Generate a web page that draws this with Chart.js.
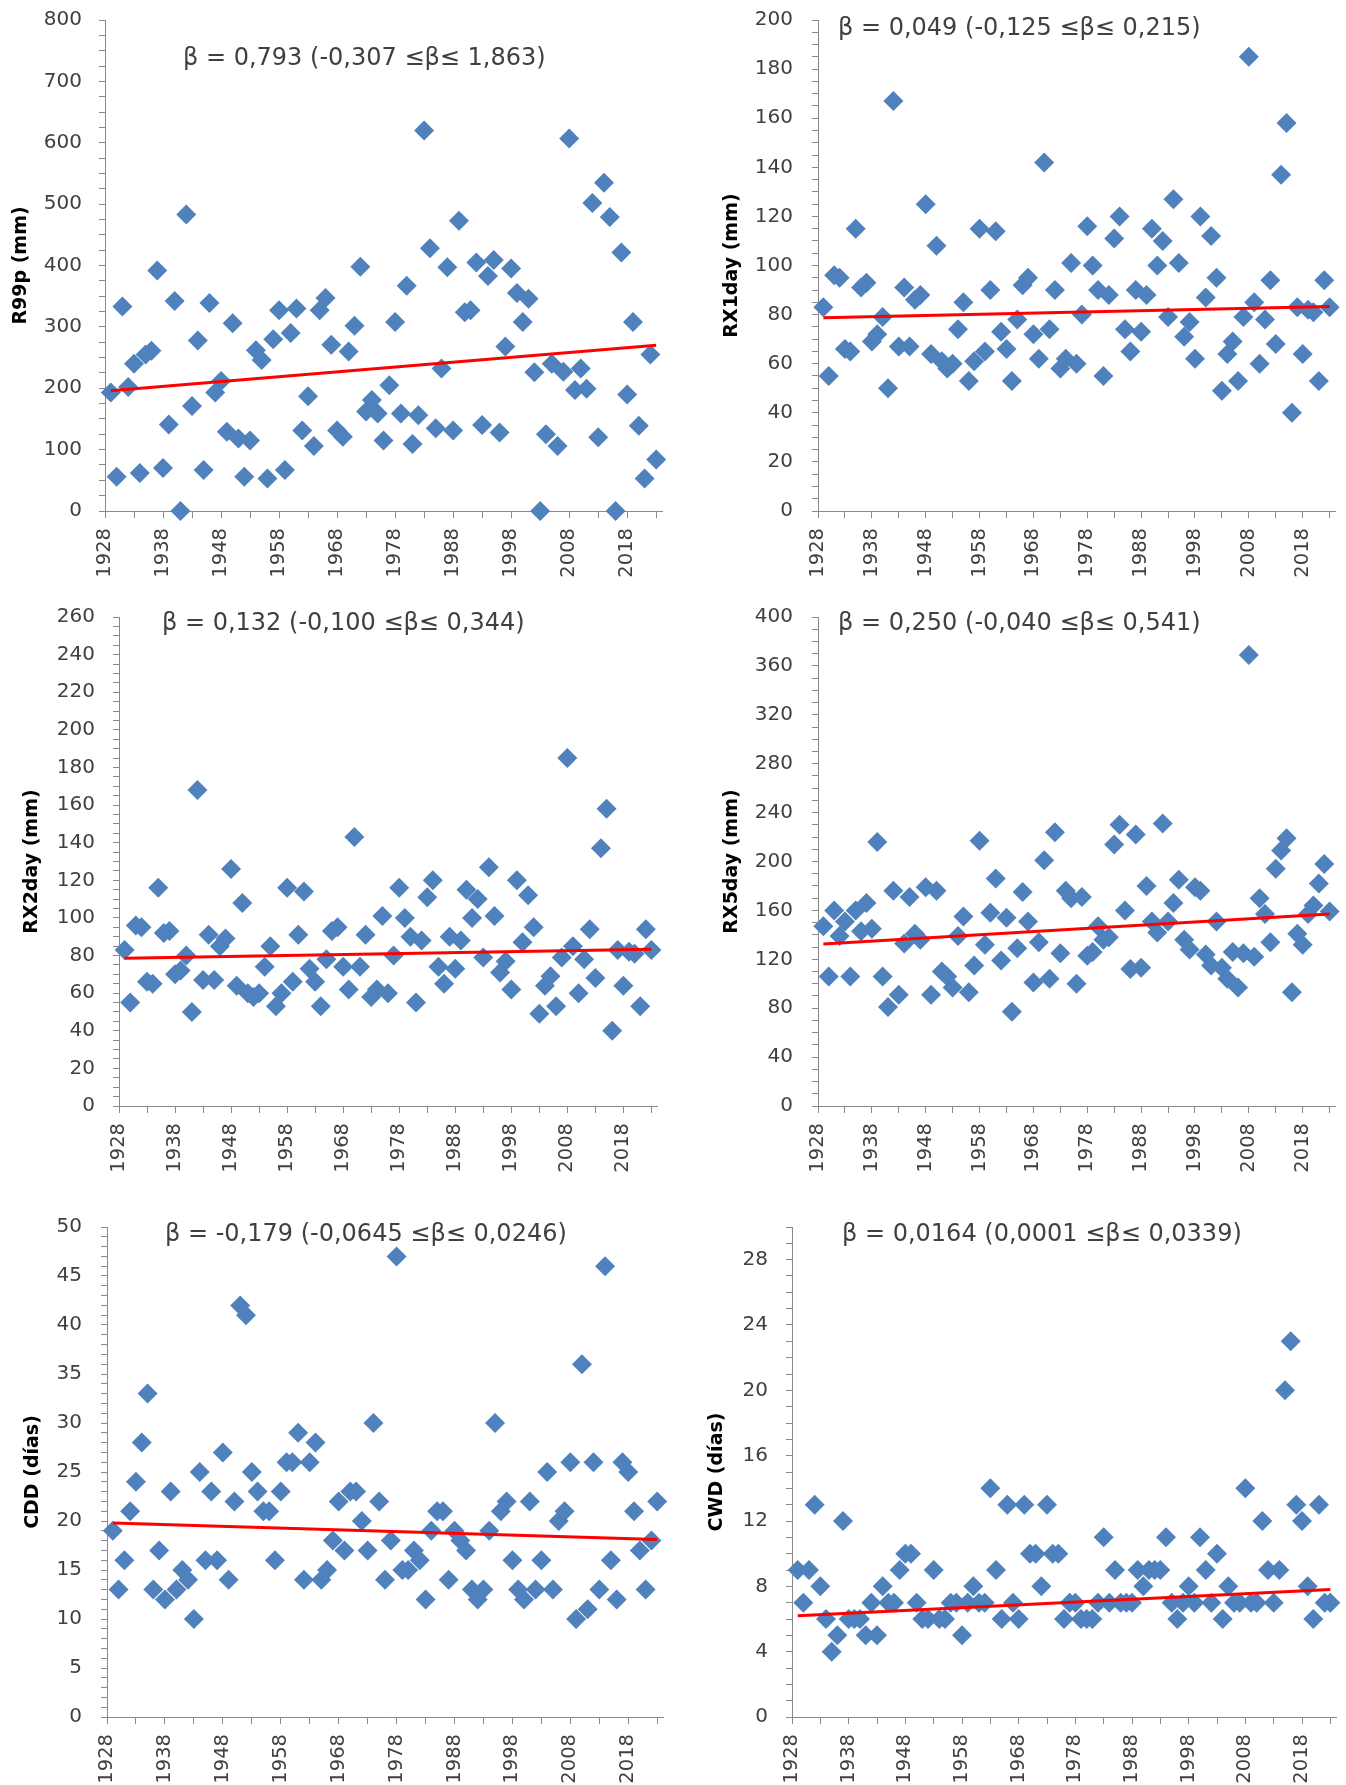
<!DOCTYPE html>
<html>
<head>
<meta charset="utf-8">
<script src="https://cdn.jsdelivr.net/npm/chart.js@4.4.1/dist/chart.umd.min.js"></script>
<style>
    html, body { margin: 0; padding: 0; background: #fff; }
    #page { position: relative; width: 1346px; height: 1785px; overflow: hidden; }
    #page canvas { position: absolute; }
</style>
</head>
<body>
<div id="page"></div>
<script>
// Years on the x axis
const years = [
    1929, 1930, 1931, 1932, 1933, 1934, 1935, 1936, 1937, 1938,
    1939, 1940, 1941, 1942, 1943, 1944, 1945, 1946, 1947, 1948,
    1949, 1950, 1951, 1952, 1953, 1954, 1955, 1956, 1957, 1958,
    1959, 1960, 1961, 1962, 1963, 1964, 1965, 1966, 1967, 1968,
    1969, 1970, 1971, 1972, 1973, 1974, 1975, 1976, 1977, 1978,
    1979, 1980, 1981, 1982, 1983, 1984, 1985, 1986, 1987, 1988,
    1989, 1990, 1991, 1992, 1993, 1994, 1995, 1996, 1997, 1998,
    1999, 2000, 2001, 2002, 2003, 2004, 2005, 2006, 2007, 2008,
    2009, 2010, 2011, 2012, 2013, 2014, 2015, 2016, 2017, 2018,
    2019, 2020, 2021, 2022, 2023
];
// tick marks every 5 years, labels every 10
const yearTicks = [1928, 1933, 1938, 1943, 1948, 1953, 1958, 1963, 1968, 1973,
    1978, 1983, 1988, 1993, 1998, 2003, 2008, 2013, 2018, 2023];
const yearLabels = [1928, 1938, 1948, 1958, 1968, 1978, 1988, 1998, 2008, 2018];

const r99p = [
    193, 56, 333, 202, 240, 62, 255, 261, 392, 70,
    141, 342, 0, 483, 171, 278, 67, 339, 193, 212,
    129, 306, 118, 56, 115, 262, 246, 53, 280, 327,
    67, 290, 330, 131, 187, 106, 327, 347, 271, 131,
    121, 260, 302, 398, 162, 181, 159, 115, 205, 308,
    159, 367, 109, 156, 620, 428, 135, 232, 397, 131,
    473, 324, 327, 405, 140, 383, 409, 128, 268, 395,
    355, 308, 346, 226, 0, 125, 240, 106, 227, 607,
    197, 232, 199, 502, 120, 535, 479, 0, 421, 190,
    308, 139, 53, 255, 84
];
const rx1day = [
    83, 55, 96, 95, 66, 65, 115, 91, 93, 69,
    72, 79, 50, 167, 67, 91, 67, 86, 88, 125,
    64, 108, 61, 58, 60, 74, 85, 53, 61, 115,
    65, 90, 114, 73, 66, 53, 78, 92, 95, 72,
    62, 142, 74, 90, 58, 62, 101, 60, 80, 116,
    100, 90, 55, 88, 111, 120, 74, 65, 90, 73,
    88, 115, 100, 110, 79, 127, 101, 71, 77, 62,
    120, 87, 112, 95, 49, 64, 69, 53, 79, 185,
    85, 60, 78, 94, 68, 137, 158, 40, 83, 64,
    82, 81, 53, 94, 83
];
const rx2day = [
    83, 55, 96, 95, 66, 65, 116, 92, 93, 70,
    72, 80, 50, 168, 67, 91, 67, 85, 89, 126,
    64, 108, 60, 58, 60, 74, 85, 53, 60, 116,
    66, 91, 114, 73, 66, 53, 78, 93, 95, 74,
    62, 143, 74, 91, 58, 62, 101, 60, 80, 116,
    100, 90, 55, 88, 111, 120, 74, 65, 90, 73,
    88, 115, 100, 110, 79, 127, 101, 71, 77, 62,
    120, 87, 112, 95, 49, 64, 69, 53, 79, 185,
    85, 60, 78, 94, 68, 137, 158, 40, 83, 64,
    82, 81, 53, 94, 83
];
const rx5day = [
    147, 106, 160, 139, 151, 106, 160, 143, 166, 145,
    216, 106, 81, 176, 91, 133, 171, 141, 136, 179,
    91, 176, 110, 106, 97, 139, 155, 93, 115, 217,
    132, 158, 186, 119, 154, 77, 129, 175, 151, 101,
    134, 201, 104, 224, 125, 176, 170, 100, 171, 123,
    126, 147, 136, 138, 214, 230, 160, 112, 222, 113,
    180, 151, 142, 231, 151, 166, 185, 136, 128, 179,
    176, 124, 115, 151, 113, 104, 126, 97, 125, 369,
    122, 170, 157, 134, 194, 209, 219, 93, 141, 132,
    157, 164, 182, 198, 159
];
const cdd = [
    19, 13, 16, 21, 24, 28, 33, 13, 17, 12,
    23, 13, 15, 14, 10, 25, 16, 23, 16, 27,
    14, 22, 42, 41, 25, 23, 21, 21, 16, 23,
    26, 26, 29, 14, 26, 28, 14, 15, 18, 22,
    17, 23, 23, 20, 17, 30, 22, 14, 18, 47,
    15, 15, 17, 16, 12, 19, 21, 21, 14, 19,
    18, 17, 13, 12, 13, 19, 30, 21, 22, 16,
    13, 12, 22, 13, 16, 25, 13, 20, 21, 26,
    10, 36, 11, 26, 13, 46, 16, 12, 26, 25,
    21, 17, 13, 18, 22
];
const cwd = [
    9, 7, 9, 13, 8, 6, 4, 5, 12, 6,
    6, 6, 5, 7, 5, 8, 7, 7, 9, 10,
    10, 7, 6, 6, 9, 6, 6, 7, 7, 5,
    7, 8, 7, 7, 14, 9, 6, 13, 7, 6,
    13, 10, 10, 8, 13, 10, 10, 6, 7, 7,
    6, 6, 6, 7, 11, 7, 9, 7, 7, 7,
    9, 8, 9, 9, 9, 11, 7, 6, 7, 8,
    7, 11, 9, 7, 10, 6, 8, 7, 7, 14,
    7, 7, 12, 9, 7, 9, 20, 23, 13, 12,
    8, 6, 13, 7, 7
];

// trend line values at the first and last year
const trendR99p = [196, 270];
const trendRx1day = [78.7, 83.3];
const trendRx2day = [78.5, 83.3];
const trendRx5day = [132.5, 157];
const trendCdd = [19.8, 18.1];
const trendCwd = [6.2, 7.8];

const BLUE = '#4f81bd';
const AXIS_GREY = '#898989';
const TEXT_GREY = '#404040';
const FONT = "'DejaVu Sans', sans-serif";

const panels = [
    { values: r99p, trend: trendR99p, yMax: 800, yStep: 25, yMajor: 100, yTitle: 'R99p (mm)',
      beta: 'β = 0,793 (-0,307 ≤β≤ 1,863)',
      box: { x: 0, y: 0, w: 690, h: 590 }, area: { l: 105, t: 20, r: 662, b: 511 },
      titleX: 21, labelRight: 82, betaAt: [183, 59] },
    { values: rx1day, trend: trendRx1day, yMax: 200, yStep: 5, yMajor: 20, yTitle: 'RX1day (mm)',
      beta: 'β = 0,049 (-0,125 ≤β≤ 0,215)',
      box: { x: 690, y: 0, w: 656, h: 590 }, area: { l: 818, t: 20, r: 1335, b: 511 },
      titleX: 732, labelRight: 793, betaAt: [838, 29] },
    { values: rx2day, trend: trendRx2day, yMax: 260, yStep: 5, yMajor: 20, yTitle: 'RX2day (mm)',
      beta: 'β = 0,132 (-0,100 ≤β≤ 0,344)',
      box: { x: 0, y: 595, w: 690, h: 590 }, area: { l: 119, t: 617, r: 657, b: 1106 },
      titleX: 32, labelRight: 95, betaAt: [162, 624] },
    { values: rx5day, trend: trendRx5day, yMax: 400, yStep: 10, yMajor: 40, yTitle: 'RX5day (mm)',
      beta: 'β = 0,250 (-0,040 ≤β≤ 0,541)',
      box: { x: 690, y: 595, w: 656, h: 590 }, area: { l: 818, t: 617, r: 1335, b: 1106 },
      titleX: 732, labelRight: 793, betaAt: [838, 624] },
    { values: cdd, trend: trendCdd, yMax: 50, yStep: 1, yMajor: 5, yTitle: 'CDD (días)',
      beta: 'β = -0,179 (-0,0645 ≤β≤ 0,0246)',
      box: { x: 0, y: 1190, w: 690, h: 595 }, area: { l: 107, t: 1227, r: 663, b: 1717 },
      titleX: 33, labelRight: 82, betaAt: [165, 1235] },
    { values: cwd, trend: trendCwd, yMax: 30, yStep: 1, yMajor: 4, yTitle: 'CWD (días)',
      beta: 'β = 0,0164 (0,0001 ≤β≤ 0,0339)',
      box: { x: 690, y: 1190, w: 656, h: 595 }, area: { l: 792, t: 1227, r: 1338, b: 1717 },
      titleX: 717, labelRight: 768, betaAt: [842, 1235] }
];

// draws the slope text inside the plot
const betaLabel = {
    id: 'betaLabel',
    afterDraw(chart, args, opts) {
        const ctx = chart.ctx;
        ctx.save();
        ctx.font = opts.font;
        ctx.fillStyle = opts.color;
        ctx.textAlign = 'left';
        ctx.textBaseline = 'middle';
        ctx.fillText(opts.text, opts.x, opts.y);
        ctx.restore();
    }
};

function makePanel(p) {
    const page = document.getElementById('page');
    const canvas = document.createElement('canvas');
    canvas.width = p.box.w;
    canvas.height = p.box.h;
    canvas.style.left = p.box.x + 'px';
    canvas.style.top = p.box.y + 'px';
    canvas.style.width = p.box.w + 'px';
    canvas.style.height = p.box.h + 'px';
    page.appendChild(canvas);

    const yAxisWidth = p.area.l - p.box.x;
    const xAxisHeight = p.box.y + p.box.h - p.area.b;
    const padRight = p.box.x + p.box.w - p.area.r;
    const padTop = p.area.t - p.box.y;
    const titleSize = 19;
    const titlePad = (p.titleX - p.box.x) - titleSize * 1.2 / 2;
    const yTickLen = 6;
    const yLabelPad = (p.area.l - p.labelRight) - yTickLen;

    const yTicks = [];
    for (let v = 0; v <= p.yMax + 1e-9; v += p.yStep) yTicks.push(v);

    const points = years.map((yr, i) => ({ x: yr, y: p.values[i] }));
    const trendPts = [
        { x: years[0], y: p.trend[0] },
        { x: years[years.length - 1], y: p.trend[1] }
    ];

    new Chart(canvas, {
        type: 'scatter',
        data: {
            datasets: [{
                type: 'line',
                data: trendPts,
                showLine: true,
                borderColor: '#ff0000',
                borderWidth: 3,
                pointRadius: 0,
                fill: false
            }, {
                data: points,
                pointStyle: 'rectRot',
                pointRadius: 10,
                pointHoverRadius: 10,
                backgroundColor: BLUE,
                borderColor: BLUE,
                pointBorderWidth: 0,
                clip: false
            }]
        },
        options: {
            responsive: false,
            animation: false,
            devicePixelRatio: 1,
            events: [],
            layout: { padding: { top: padTop, right: padRight, left: 0, bottom: 0 } },
            plugins: {
                legend: { display: false },
                tooltip: { enabled: false },
                betaLabel: {
                    text: p.beta,
                    x: p.betaAt[0] - p.box.x,
                    y: p.betaAt[1] - p.box.y,
                    font: "24px 'DejaVu Sans', sans-serif",
                    color: TEXT_GREY
                }
            },
            scales: {
                x: {
                    type: 'linear',
                    min: 1928,
                    max: 2024,
                    afterBuildTicks: s => { s.ticks = yearTicks.map(v => ({ value: v })); },
                    afterFit: s => {
                        s.height = xAxisHeight;
                        s.paddingLeft = 0;
                        s.paddingRight = 0;
                    },
                    grid: { drawOnChartArea: false, color: AXIS_GREY, tickLength: 7 },
                    border: { color: AXIS_GREY },
                    ticks: {
                        autoSkip: false,
                        minRotation: 90,
                        maxRotation: 90,
                        padding: 10,
                        color: TEXT_GREY,
                        font: { family: FONT, size: 19.5 },
                        callback: v => (yearLabels.includes(v) ? String(v) : '')
                    }
                },
                y: {
                    min: 0,
                    max: p.yMax,
                    afterBuildTicks: s => { s.ticks = yTicks.map(v => ({ value: v })); },
                    afterFit: s => {
                        s.width = yAxisWidth;
                        s.paddingTop = 0;
                        s.paddingBottom = 0;
                    },
                    grid: { drawOnChartArea: false, color: AXIS_GREY, tickLength: yTickLen },
                    border: { color: AXIS_GREY },
                    ticks: {
                        autoSkip: false,
                        padding: yLabelPad,
                        color: TEXT_GREY,
                        font: { family: FONT, size: 20 },
                        callback: v => (Math.abs(v / p.yMajor - Math.round(v / p.yMajor)) < 1e-6 ? String(v) : '')
                    },
                    title: {
                        display: true,
                        text: p.yTitle,
                        color: '#000',
                        font: { family: FONT, size: titleSize, weight: 'bold' },
                        padding: { top: titlePad, bottom: 0 }
                    }
                }
            }
        },
        plugins: [betaLabel]
    });
}

document.addEventListener('DOMContentLoaded', function () {
    panels.forEach(makePanel);
});
</script>
</body>
</html>
